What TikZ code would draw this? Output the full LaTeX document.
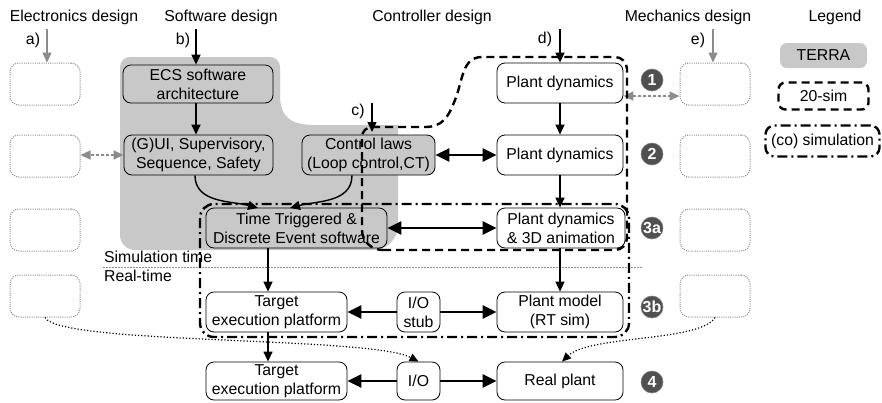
\documentclass[tikz,border=0pt]{standalone}
\usepackage{fontspec}
\setmainfont{Liberation Sans}
\usetikzlibrary{arrows.meta}
\definecolor{terragray}{RGB}{200,200,200}
\definecolor{badgegray}{RGB}{80,80,80}
\definecolor{ghostgray}{RGB}{140,140,140}
\begin{document}
\begin{tikzpicture}[x=1pt,y=1pt,
  font=\fontsize{15.8}{19}\selectfont,
  box/.style={draw, rounded corners=8pt, line width=0.8pt, align=center, inner sep=0pt, minimum height=40pt},
  tbox/.style={box, fill=terragray},
  ghost/.style={draw=ghostgray, dash pattern=on 1pt off 1.2pt, line width=1pt, rounded corners=9pt, minimum width=70pt, minimum height=42pt},
  arr/.style={-{Triangle[length=10pt,width=9pt]}, line width=1.4pt},
  garr/.style={-{Triangle[length=10pt,width=9pt]}, line width=1.4pt, draw=ghostgray, fill=ghostgray},
  gdarr/.style={{Triangle[length=10pt,width=9pt]}-{Triangle[length=10pt,width=9pt]}, line width=1.4pt, draw=ghostgray, fill=ghostgray, dash pattern=on 3pt off 2pt},
  darr/.style={{Triangle[length=14pt,width=13pt]}-{Triangle[length=14pt,width=13pt]}, line width=2.6pt},
  tarr/.style={-{Triangle[length=14pt,width=13pt]}, line width=2.6pt},
  dotarr/.style={-{Triangle[length=9pt,width=8pt]}, line width=1.2pt, dash pattern=on 1.2pt off 2pt},
  simreg/.style={line width=2.4pt, dash pattern=on 8pt off 5pt},
  coreg/.style={line width=2.4pt, dash pattern=on 10pt off 4pt on 2pt off 4pt},
  badge/.style={circle, fill=badgegray, draw=gray, line width=0.6pt, minimum size=22pt, inner sep=0pt, text=white, font=\fontsize{16}{16}\selectfont\bfseries},
  lbl/.style={inner sep=0pt}
]
\useasboundingbox (0,0) rectangle (882,-402);

% TERRA region
\fill[terragray] (130,-57) -- (270,-57) to[out=0,in=90] (280,-67) -- (280,-95)
  .. controls (280,-118) and (292,-125) .. (315,-125) -- (398,-125) -- (398,-225)
  to[out=-90,in=0] (373,-250) -- (135,-250) to[out=180,in=-90] (120,-235) -- (120,-67)
  to[out=90,in=180] (130,-57) -- cycle;

% separator
\draw[ghostgray, line width=1pt, dash pattern=on 1.5pt off 1.5pt] (103,-267) -- (642,-267);
\node[lbl, anchor=west] (simt) at (104,-257) {Simulation time};
\node[lbl, anchor=west] (realt) at (104,-276) {Real-time};

% headers
\node[lbl] (hel) at (74,-17) {Electronics design};
\node[lbl] (hsw) at (221,-17) {Software design};
\node[lbl] (hct) at (432,-17) {Controller design};
\node[lbl] (hme) at (688,-17) {Mechanics design};
\node[lbl] (hlg) at (835,-17) {Legend};

% ghost boxes
\node[ghost] (gL1) at (45,-84) {};
\node[ghost] (gL2) at (45,-156) {};
\node[ghost] (gL3) at (45,-230) {};
\node[ghost] (gL4) at (45,-296) {};
\node[ghost] (gR1) at (715,-84) {};
\node[ghost] (gR2) at (715,-156) {};
\node[ghost] (gR3) at (715,-230) {};
\node[ghost] (gR4) at (715,-296) {};

% main nodes
\node[tbox, minimum width=150pt, minimum height=38pt] (ecs) at (198,-84) {ECS software\\architecture};
\node[tbox, minimum width=149pt] (gui) at (198.5,-155) {(G)UI, Supervisory,\\Sequence, Safety};
\node[tbox, minimum width=133pt] (ctrl) at (368.5,-155) {Control laws\\(Loop control,CT)};
\node[box, minimum width=126pt] (pd1) at (560,-83) {Plant dynamics};
\node[box, minimum width=126pt] (pd2) at (560,-155) {Plant dynamics};
\node[tbox, minimum width=181pt] (tt) at (296.5,-228) {Time Triggered \&\\Discrete Event software};
\node[box, minimum width=128pt] (pd3) at (561,-228) {Plant dynamics\\\& 3D animation};
\node[box, minimum width=141pt] (tg1) at (276.5,-312) {Target\\execution platform};
\node[box, minimum width=43pt] (ios) at (418.5,-312) {I/O\\stub};
\node[box, minimum width=126pt] (pm) at (560,-312) {Plant model\\(RT sim)};
\node[box, minimum width=141pt, minimum height=38pt] (tg2) at (276.5,-381) {Target\\execution platform};
\node[box, minimum width=43pt, minimum height=38pt] (io) at (418.5,-381) {I/O};
\node[box, minimum width=126pt, minimum height=38pt] (rp) at (560,-381) {Real plant};

% badges
\node[badge] (n1) at (652,-80) {1};
\node[badge] (n2) at (652,-154) {2};
\node[badge] (n3a) at (652,-228) {3a};
\node[badge] (n3b) at (652,-307) {3b};
\node[badge] (n4) at (652,-382) {4};

% input arrows
\coordinate (as) at (47,-29);
\coordinate (bs) at (196,-29);
\coordinate (cs) at (372,-103);
\coordinate (ds) at (560,-29);
\coordinate (es) at (713,-29);
\draw[garr] (as) -- (as |- gL1.north);
\draw[arr] (bs) -- (bs |- ecs.north);
\draw[arr] (cs) -- (372,-132);
\draw[arr] (ds) -- (ds |- pd1.north);
\draw[garr] (es) -- (es |- gR1.north);
\node[lbl] (la) at (33,-40) {a)};
\node[lbl] (lb) at (183,-40) {b)};
\node[lbl] (lc) at (358,-111) {c)};
\node[lbl] (ld) at (545,-39) {d)};
\node[lbl] (le) at (698,-40) {e)};

% connectors
\draw[arr] (ecs.south -| bs) -- (gui.north -| bs);
\draw[arr] (gui.south -| 195,0) to[out=-90,in=165] (258,-208);
\draw[arr] (ctrl.south -| 352,0) to[out=-90,in=15] (290,-208);
\draw[darr] (ctrl.east) -- (pd2.west);
\draw[arr] (pd1.south) -- (pd2.north);
\draw[arr] (pd2.south) -- (pd2.south |- pd3.north);
\draw[darr] (tt.east) -- (pd3.west);
\draw[arr] ([xshift=-28.5pt]tt.south) -- ([xshift=-8.5pt]tg1.north);
\draw[arr] (pd3.south -| pm.north) -- (pm.north);
\draw[tarr] (ios.west) -- (tg1.east);
\draw[tarr] (ios.east) -- (pm.west);
\draw[arr] ([xshift=-8.5pt]tg1.south) -- ([xshift=-8.5pt]tg2.north);
\draw[tarr] (io.west) -- (tg2.east);
\draw[tarr] (io.east) -- (rp.west);

% gray dashed links
\draw[gdarr] ([yshift=-13pt]pd1.east) -- ([yshift=-13pt]pd1.east -| gR1.west);
\draw[gdarr] (gui.west) -- (gui.west -| gL2.east);

% dotted curved links
\draw[dotarr] (gL4.south) .. controls (60,-345) and (370,-336) .. (io.north);
\draw[dotarr] (gR4.south) .. controls (700,-342) and (590,-335) .. ([xshift=2pt]rp.north);

% 20-sim region
\draw[simreg] (383,-250) -- (615,-250) to[out=0,in=-90] (627,-238) -- (627,-69)
  to[out=90,in=0] (615,-57) -- (482,-57)
  .. controls (462,-57) and (463,-80) .. (455,-100)
  .. controls (448,-118) and (442,-127) .. (425,-127) -- (372,-127)
  to[out=180,in=90] (362,-137) -- (362,-230) to[out=-90,in=180] (383,-250);

% co-simulation region
\draw[coreg, rounded corners=14pt] (200,-204) rectangle (629,-337);

% legend
\node[fill=terragray, rounded corners=7pt, minimum width=87pt, minimum height=25pt, inner sep=0pt] (lt) at (823.5,-55.5) {TERRA};
\node[simreg, draw, rounded corners=7pt, minimum width=90pt, minimum height=27pt, inner sep=0pt] (ls) at (823.5,-96) {20-sim};
\node[coreg, draw, rounded corners=9pt, minimum width=114pt, minimum height=31pt, inner sep=0pt] (lcs) at (822.5,-141) {(co) simulation};
\end{tikzpicture}
\end{document}
